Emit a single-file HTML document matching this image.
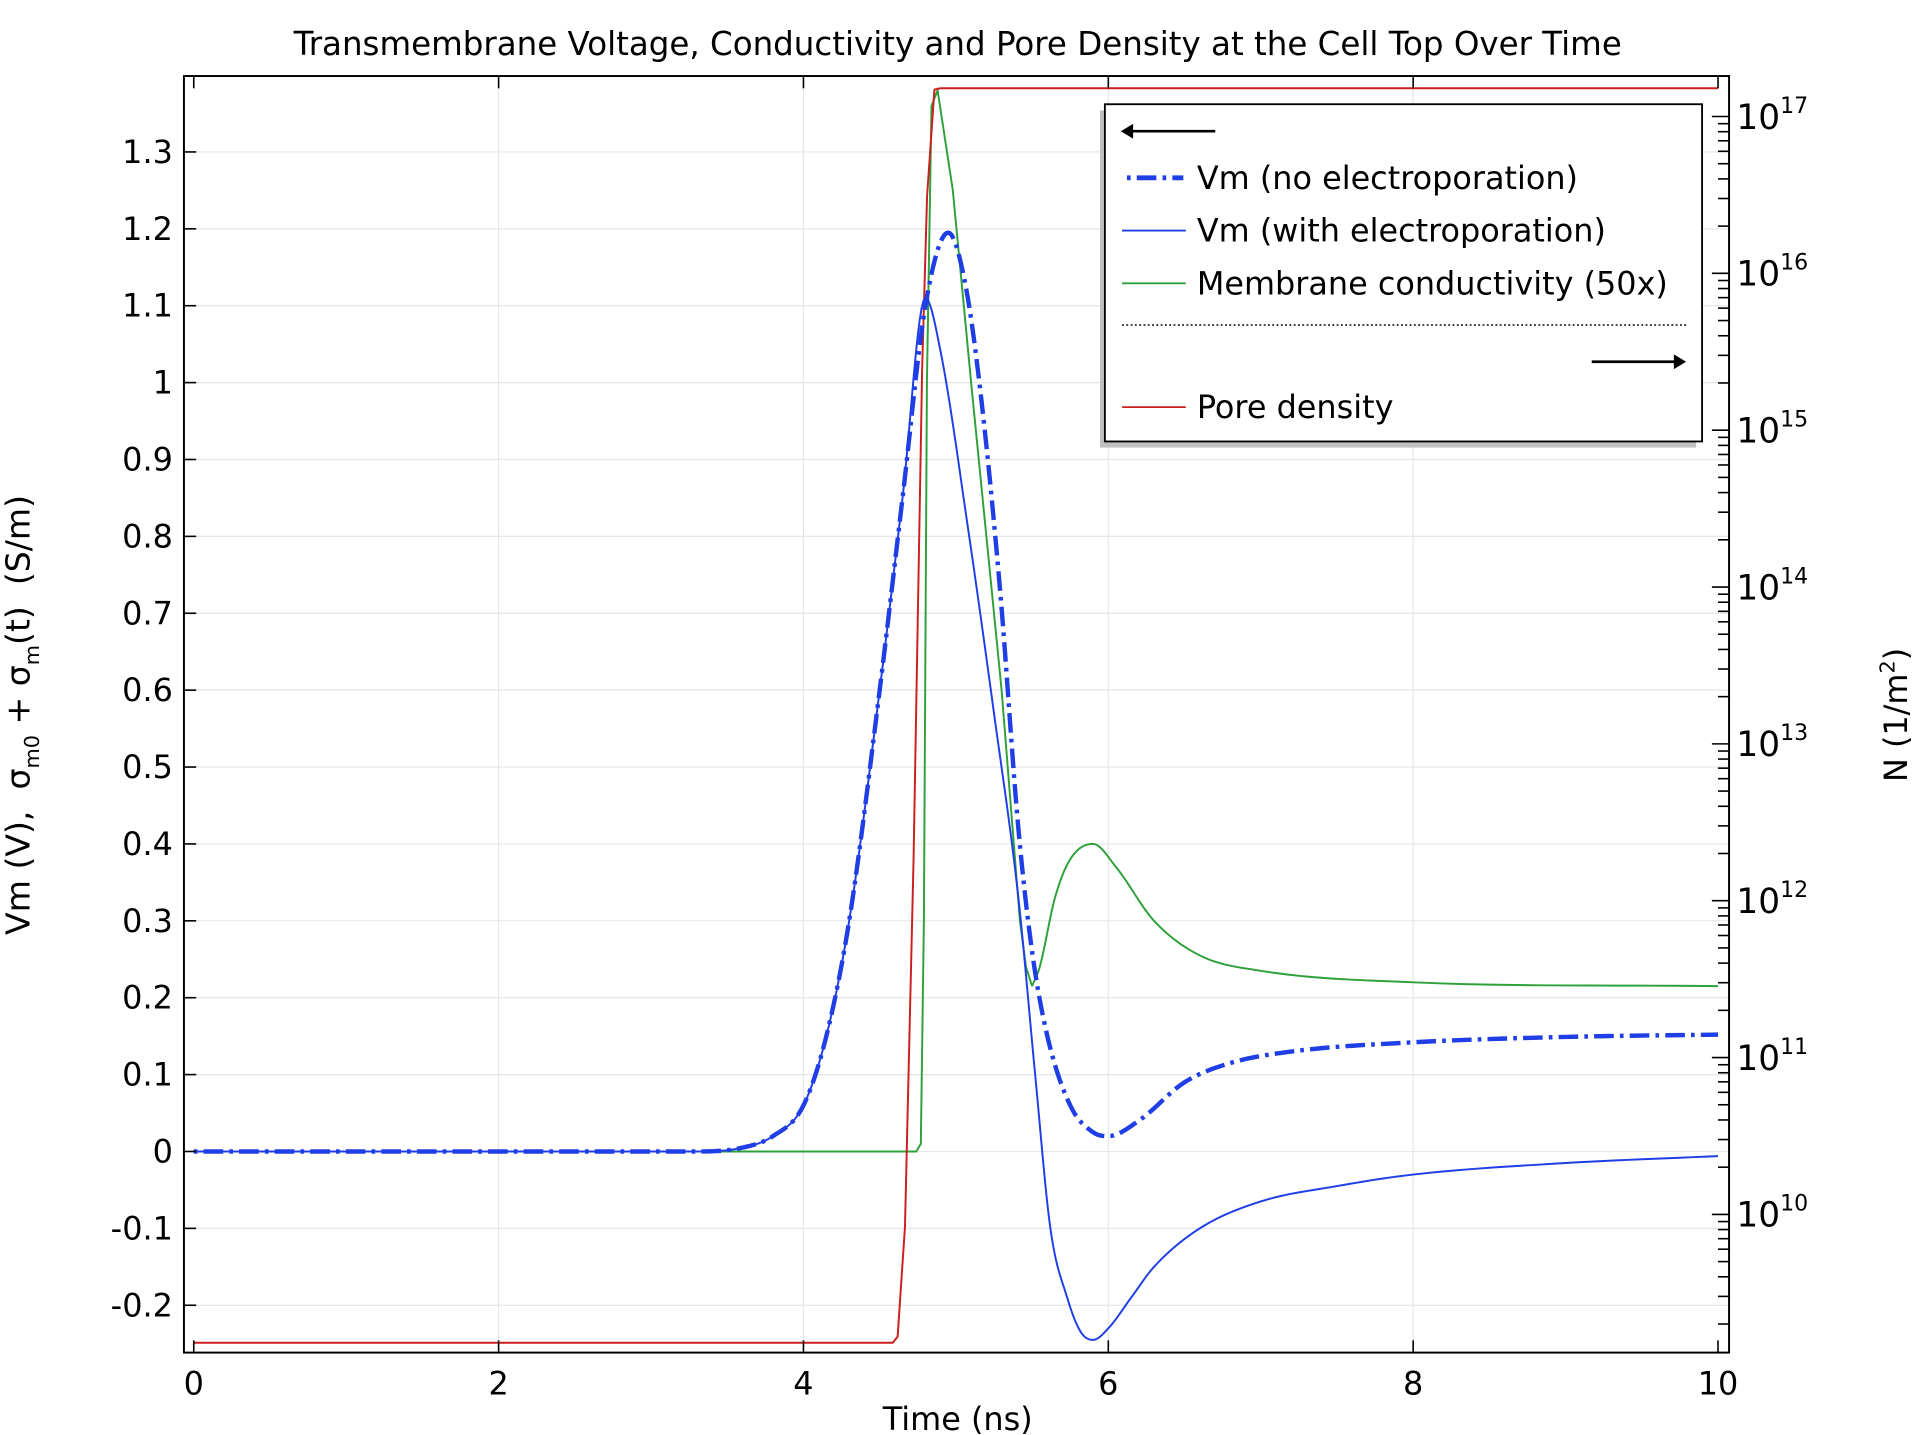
<!DOCTYPE html>
<html><head><meta charset="utf-8"><style>
html,body{margin:0;padding:0;background:#fff;}
svg{display:block;}
text{font-family:"DejaVu Sans","Liberation Sans",sans-serif;fill:#000;}
</style></head><body>
<svg id="s" width="1913" height="1435" viewBox="0 0 1560 1170.2" preserveAspectRatio="none" xmlns="http://www.w3.org/2000/svg">
<rect width="1560" height="1171" fill="#fff"/>
<g id="grid" stroke="#e6e6e6" stroke-width="1"></g>
<g id="curves" fill="none"></g>
<g id="axes"></g>
<text x="781" y="45" font-size="26.5" text-anchor="middle">Transmembrane Voltage, Conductivity and Pore Density at the Cell Top Over Time</text>
<text x="781" y="1166" font-size="26" text-anchor="middle">Time (ns)</text>
<text transform="translate(24,583) rotate(-90)" font-size="27" text-anchor="middle" xml:space="preserve">Vm (V),  σ<tspan font-size="17" dy="8">m0</tspan><tspan dy="-8"> + σ</tspan><tspan font-size="17" dy="8">m</tspan><tspan dy="-8">(t)  (S/m)</tspan></text>
<text transform="translate(1555,583) rotate(-90)" font-size="26" text-anchor="middle">N (1/m<tspan font-size="17" dy="-10">2</tspan><tspan dy="10">)</tspan></text>
<!-- legend -->
<rect x="897" y="90" width="486" height="275" fill="#c0c0c0"/>
<rect x="901" y="85" width="487" height="275" fill="#fff" stroke="#000" stroke-width="1.5"/>
<line x1="922" y1="107" x2="991" y2="107" stroke="#000" stroke-width="2.2"/>
<polygon points="914,107 924,101 924,113" fill="#000"/>
<line x1="919" y1="145" x2="965" y2="145" stroke="#1f3ee6" stroke-width="4" stroke-dasharray="3,5,16,5"/>
<text x="976" y="154" font-size="26">Vm (no electroporation)</text>
<line x1="915" y1="188" x2="967" y2="188" stroke="#1f3ee6" stroke-width="1.5"/>
<text x="976" y="197" font-size="26">Vm (with electroporation)</text>
<line x1="915" y1="231" x2="967" y2="231" stroke="#2ea13b" stroke-width="1.5"/>
<text x="976" y="240" font-size="26">Membrane conductivity (50x)</text>
<line x1="915" y1="265" x2="1375" y2="265" stroke="#000" stroke-width="1.2" stroke-dasharray="1.5,2"/>
<line x1="1298" y1="295" x2="1367" y2="295" stroke="#000" stroke-width="2.2"/>
<polygon points="1375,295 1365,289 1365,301" fill="#000"/>
<line x1="915" y1="332" x2="967" y2="332" stroke="#cc1f1f" stroke-width="1.5"/>
<text x="976" y="341" font-size="26">Pore density</text>
</svg>
<script>
var NS="http://www.w3.org/2000/svg";
function el(p,n,a){var e=document.createElementNS(NS,n);for(var k in a)e.setAttribute(k,a[k]);p.appendChild(e);return e;}
var X=function(t){return 158+124.3*t;},Y=function(v){return 939-627*v;};
var L=150,R=1410,T=62,B=1103;
var g=document.getElementById('grid'),ax=document.getElementById('axes'),cv=document.getElementById('curves');
for(var t=2;t<=8;t+=2)el(g,'line',{x1:X(t),y1:T,x2:X(t),y2:B});
for(var i=-2;i<=13;i++){var y=Y(i/10);el(g,'line',{x1:L,y1:y,x2:R,y2:y});}
el(ax,'rect',{x:L,y:T,width:R-L,height:B-T,fill:'none',stroke:'#000','stroke-width':1.6});
for(var t=0;t<=10;t+=2){el(ax,'line',{x1:X(t),y1:B,x2:X(t),y2:B-10,stroke:'#000','stroke-width':1.3});el(ax,'line',{x1:X(t),y1:T,x2:X(t),y2:T+10,stroke:'#000','stroke-width':1.3});
 var tx=el(ax,'text',{x:X(t),y:1137,'font-size':26,'text-anchor':'middle'});tx.textContent=t;}
for(var i=-2;i<=13;i++){var y=Y(i/10);el(ax,'line',{x1:L,y1:y,x2:L+10,y2:y,stroke:'#000','stroke-width':1.3});
 var tx=el(ax,'text',{x:141,y:y+9,'font-size':26,'text-anchor':'end'});tx.textContent=(i==0?'0':i==10?'1':(i<0?'-':'')+(Math.abs(i)>=10?'1.'+(Math.abs(i)-10):'0.'+Math.abs(i)));}
var Yr=function(l){return 95+127.9*(17-l);};
for(var d=9;d<=17;d++){for(var m=1;m<10;m++){var l=d+Math.log10(m);var y=Yr(l);if(y<T||y>B)continue;
 el(ax,'line',{x1:R,y1:y,x2:R-(m==1?14:9),y2:y,stroke:'#000','stroke-width':1.3});}
 if(d>=10){var y=Yr(d);var tx=el(ax,'text',{x:1416,y:y+10,'font-size':28});tx.innerHTML='10<tspan font-size="18" dy="-13">'+d+'</tspan>';}}
function mono(pts,noMove){var n=pts.length,xs=pts.map(p=>p[0]),ys=pts.map(p=>p[1]),dl=[],m=[];
 for(var i=0;i<n-1;i++)dl.push((ys[i+1]-ys[i])/(xs[i+1]-xs[i]));
 m[0]=dl[0];m[n-1]=dl[n-2];for(var i=1;i<n-1;i++){m[i]=(dl[i-1]*dl[i]<=0)?0:(dl[i-1]+dl[i])/2;}
 var d=(noMove?' L':'M')+X(xs[0])+','+Y(ys[0]);
 for(var i=0;i<n-1;i++){var h=xs[i+1]-xs[i];
  for(var k=1;k<=12;k++){var s=k/12,h00=2*s*s*s-3*s*s+1,h10=s*s*s-2*s*s+s,h01=-2*s*s*s+3*s*s,h11=s*s*s-s*s;
   var v=h00*ys[i]+h10*h*m[i]+h01*ys[i+1]+h11*h*m[i+1];d+=' L'+X(xs[i]+s*h).toFixed(2)+','+Y(v).toFixed(2);}}
 return d;}
function lin(pts){return pts.map((p,i)=>(i?' L':'M')+X(p[0]).toFixed(2)+','+Y(p[1]).toFixed(2)).join('');}
var rise=[[0,0],[3.3,0],[3.6,0.005],[3.8,0.02],[4.0,0.06],[4.15,0.15],[4.3,0.3],[4.5,0.6],[4.65,0.85]];
var noEP=rise.concat([[4.8,1.1],[4.95,1.195],[5.06,1.13],[5.16,0.99],[5.29,0.73],[5.41,0.42],[5.5,0.26],[5.6,0.15],[5.75,0.06],[5.9,0.025],[6.0,0.02],[6.2,0.04],[6.5,0.09],[6.8,0.115],[7.2,0.13],[8,0.142],[9,0.149],[10,0.152]]);
var EP=rise.concat([[4.8,1.11],[4.9,1.04],[5.08,0.81],[5.25,0.57],[5.41,0.33],[5.52,0.1],[5.62,-0.1],[5.73,-0.19],[5.82,-0.235],[5.9,-0.245],[6.0,-0.23],[6.15,-0.19],[6.3,-0.15],[6.6,-0.1],[7,-0.065],[7.5,-0.045],[8,-0.03],[9,-0.015],[10,-0.006]]);
var g1=lin([[0,0],[4.74,0],[4.77,0.01],[4.79,0.3],[4.81,1.0],[4.84,1.36],[4.88,1.38],[4.98,1.25],[5.1,1.0],[5.3,0.6],[5.42,0.3],[5.46,0.24],[5.5,0.215]]);
var g2=mono([[5.5,0.215],[5.55,0.24],[5.65,0.33],[5.75,0.38],[5.9,0.40],[6.05,0.37],[6.3,0.3],[6.6,0.255],[7,0.235],[8,0.22],[10,0.215]],true);
el(cv,'path',{d:g1+g2,stroke:'#2ea13b','stroke-width':1.6});
el(cv,'path',{d:'M158,1095 L728,1095 L732,1090 L738,1000 L745,700 L752,300 L756,160 L762,73 L767,72 L1401,72',stroke:'#cc1f1f','stroke-width':1.6});
el(cv,'path',{d:mono(EP),stroke:'#1f3ee6','stroke-width':1.6});
el(cv,'path',{d:mono(noEP),stroke:'#1f3ee6','stroke-width':3.6,'stroke-dasharray':'3,5,16,5'});
</script>
</body></html>
